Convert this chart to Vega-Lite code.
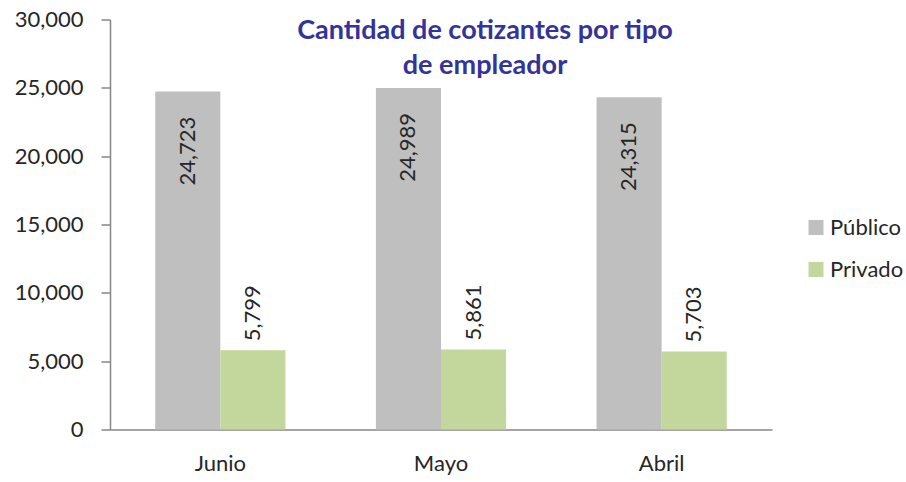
{
  "$schema": "https://vega.github.io/schema/vega-lite/v6.json",
  "width": 662,
  "height": 410,
  "autosize": {"type": "none"},
  "padding": {"left": 110, "top": 19.5, "right": 134, "bottom": 52.5},
  "background": "white",
  "config": {"view": {"stroke": null}, "font": "Lato"},
  "title": {
    "text": ["Cantidad de cotizantes por tipo", "de empleador"],
    "font": "Lato",
    "fontSize": 27,
    "fontWeight": "bold",
    "color": "#333399",
    "anchor": "middle",
    "frame": "group",
    "lineHeight": 35,
    "dx": 44,
    "offset": -71
  },
  "data": {
    "values": [
      {"mes": "Junio", "tipo": "Público", "valor": 24723},
      {"mes": "Junio", "tipo": "Privado", "valor": 5799},
      {"mes": "Mayo", "tipo": "Público", "valor": 24989},
      {"mes": "Mayo", "tipo": "Privado", "valor": 5861},
      {"mes": "Abril", "tipo": "Público", "valor": 24315},
      {"mes": "Abril", "tipo": "Privado", "valor": 5703}
    ]
  },
  "encoding": {
    "x": {
      "field": "mes",
      "type": "nominal",
      "sort": ["Junio", "Mayo", "Abril"],
      "scale": {"paddingInner": 0.41, "paddingOuter": 0.205},
      "axis": {
        "title": null,
        "ticks": false,
        "labelAngle": 0,
        "domainColor": "#868686",
        "domainWidth": 1.5,
        "labelFont": "Lato",
        "labelFontSize": 22,
        "labelColor": "#262626",
        "labelPadding": 24
      }
    },
    "xOffset": {
      "field": "tipo",
      "type": "nominal",
      "sort": ["Público", "Privado"],
      "scale": {"paddingInner": 0, "paddingOuter": 0}
    },
    "y": {
      "field": "valor",
      "type": "quantitative",
      "scale": {"domain": [0, 30000], "nice": false},
      "axis": {
        "title": null,
        "grid": false,
        "values": [0, 5000, 10000, 15000, 20000, 25000, 30000],
        "format": ",.0f",
        "domainColor": "#868686",
        "domainWidth": 1.5,
        "tickColor": "#868686",
        "tickWidth": 1.5,
        "tickSize": 9,
        "labelFont": "Lato",
        "labelFontSize": 22,
        "labelColor": "#262626",
        "labelPadding": 18
      }
    }
  },
  "layer": [
    {
      "mark": {"type": "bar"},
      "encoding": {
        "color": {
          "field": "tipo",
          "type": "nominal",
          "sort": ["Público", "Privado"],
          "scale": {"domain": ["Público", "Privado"], "range": ["#bfbfbf", "#c3d69b"]},
          "legend": {
            "title": null,
            "orient": "none",
            "legendX": 695,
            "legendY": 197,
            "symbolType": "square",
            "symbolSize": 225,
            "symbolStrokeWidth": 0,
            "labelFont": "Lato",
            "labelFontSize": 22,
            "labelColor": "#262626",
            "labelOffset": 3,
            "rowPadding": 20,
            "padding": 0
          }
        }
      }
    },
    {
      "transform": [{"filter": "datum.tipo === 'Público'"}],
      "mark": {"type": "text", "angle": -90, "align": "right", "baseline": "middle", "dx": -25, "font": "Lato", "fontSize": 22, "color": "#262626"},
      "encoding": {"text": {"field": "valor", "type": "quantitative", "format": ",.0f"}}
    },
    {
      "transform": [{"filter": "datum.tipo === 'Privado'"}],
      "mark": {"type": "text", "angle": -90, "align": "left", "baseline": "middle", "dx": 9, "font": "Lato", "fontSize": 22, "color": "#262626"},
      "encoding": {"text": {"field": "valor", "type": "quantitative", "format": ",.0f"}}
    }
  ]
}
